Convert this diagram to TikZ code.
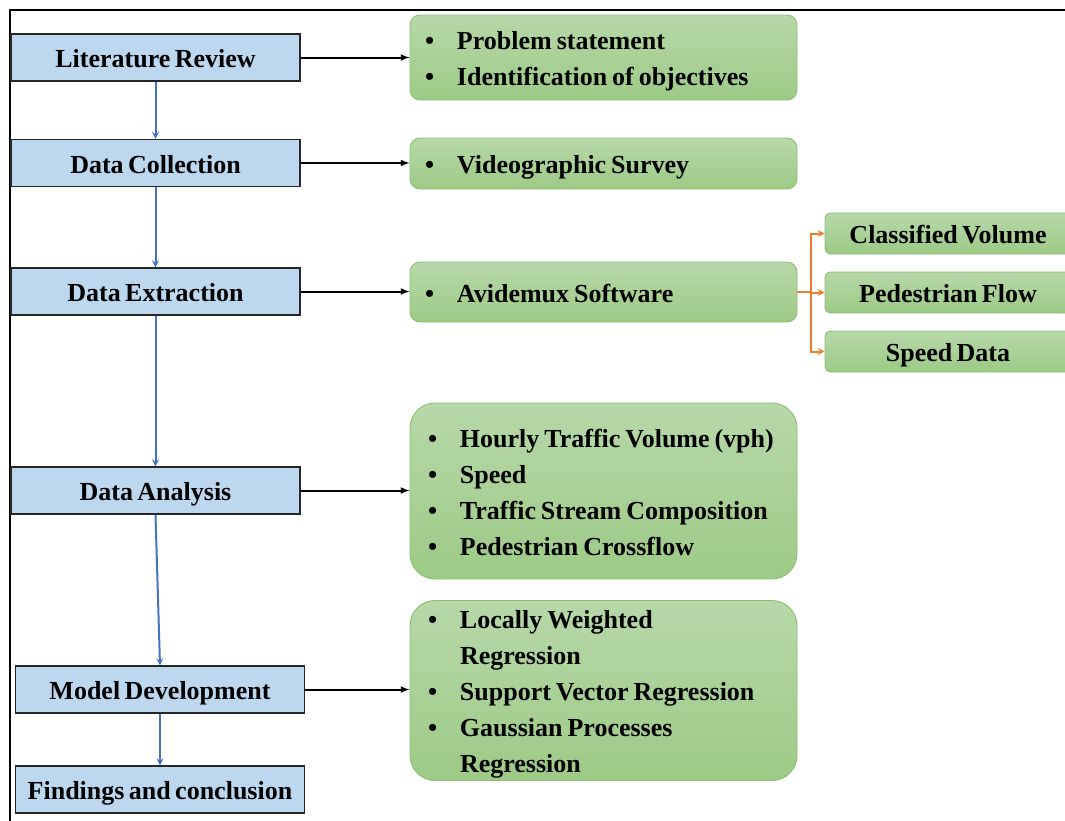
\documentclass[tikz,border=0pt]{standalone}
\usepackage{fontspec}
\setmainfont{Liberation Serif}
\usepackage{xcolor}
\usepackage{tikz}
\usetikzlibrary{shapes,arrows,positioning,calc}
\definecolor{stageblue}{HTML}{BDD7EE}
\definecolor{flowblue}{HTML}{4472C4}
\definecolor{infotop}{HTML}{B7D8A9}
\definecolor{infobot}{HTML}{9DCA86}
\definecolor{infoline}{HTML}{8CBF70}
\definecolor{forkorange}{HTML}{ED7D31}
\newcommand{\boxfont}{\bfseries\fontsize{26}{36}\selectfont\spaceskip=0.17em plus 0.05em\relax}
\newcommand{\blist}[1]{\spaceskip=0.19em\relax
  \raisebox{-3pt}[\height][\depth]{\begin{tabular}{@{}p{32pt}@{}l@{}}#1\end{tabular}}}

\begin{document}
\begin{tikzpicture}[x=1pt, y=-1pt,
    every node/.style={font=\boxfont},
    stage/.style={draw=black!85, line width=1.4pt, fill=stageblue, minimum width=289pt, minimum height=47pt, inner sep=0pt, text height=22pt, text depth=2pt},
    info/.style={draw=infoline, line width=0.9pt, rounded corners=10pt, top color=infotop, bottom color=infobot, text width=357pt, inner xsep=15pt, inner ysep=0pt, align=left},
    sub/.style={draw=infoline, line width=0.9pt, rounded corners=6pt, top color=infotop, bottom color=infobot, minimum width=246pt, minimum height=41pt, inner sep=0pt, text height=22pt, text depth=2pt},
    flow/.style={->, >=stealth, flowblue, line width=2pt},
    link/.style={->, >=latex, line width=2pt},
    forkline/.style={->, >=stealth, forkorange, line width=2pt}]
    \clip (0,0) rectangle (1065,820);
    \draw[line width=2.5pt] (10,830) -- (10,10) -- (1075,10);

    % stages
    \node[stage] (lit) at (155.5,57.5) {Literature Review};
    \node[stage] (col) at (155.5,163) {Data Collection};
    \node[stage] (ext) at (155.5,291.5) {Data Extraction};
    \node[stage] (ana) at (155.5,490.5) {Data Analysis};
    \node[stage] (mod) at (160,689.5) {Model Development};
    \node[stage] (fin) at (160,789.5) {Findings and conclusion};

    % details
    \node[info, minimum height=85pt] (obj) at (603.5,57.5)
        {\blist{\textbullet & Problem statement\\ \textbullet & Identification of objectives}};
    \node[info, minimum height=51pt] (svy) at (603.5,163.5)
        {\blist{\textbullet & Videographic Survey}};
    \node[info, minimum height=60pt] (soft) at (603.5,292)
        {\blist{\textbullet & Avidemux Software}};
    \node[info, minimum height=176pt, rounded corners=25pt, text width=351pt, inner xsep=18pt] (par) at (603.5,491)
        {\blist{\textbullet & Hourly Traffic Volume (vph)\\ \textbullet & Speed\\
         \textbullet & Traffic Stream Composition\\ \textbullet & Pedestrian Crossflow}};
    \node[info, minimum height=177pt, rounded corners=25pt, text width=351pt, inner xsep=18pt] (reg) at (603.5,690.5)
        {\blist{\textbullet & Locally Weighted\\ & Regression\\ \textbullet & Support Vector Regression\\
         \textbullet & Gaussian Processes\\ & Regression}};

    % extracted data
    \node[sub] (vol) at (948,233.5) {Classified Volume};
    \node[sub] (ped) at (948,292.5) {Pedestrian Flow};
    \node[sub] (spd) at (948,351.5) {Speed Data};
    \coordinate (fork) at (811,292);

    \draw[flow] (lit.south) -- (col.north);
    \draw[flow] (col.south) -- (ext.north);
    \draw[flow] (ext.south) -- (ana.north);
    \draw[flow] (ana.south) -- (mod.north);
    \draw[flow] (mod.south) -- (fin.north);

    \draw[link] (lit.east) -- (lit.east -| obj.west);
    \draw[link] (col.east) -- (col.east -| svy.west);
    \draw[link] (ext.east) -- (ext.east -| soft.west);
    \draw[link] (ana.east) -- (ana.east -| par.west);
    \draw[link] (mod.east) -- (mod.east -| reg.west);

    \draw[forkline] (soft.east) -- (fork) |- (vol.west);
    \draw[forkline] (fork) |- (ped.west);
    \draw[forkline] (fork) |- (spd.west);
\end{tikzpicture}
\end{document}
